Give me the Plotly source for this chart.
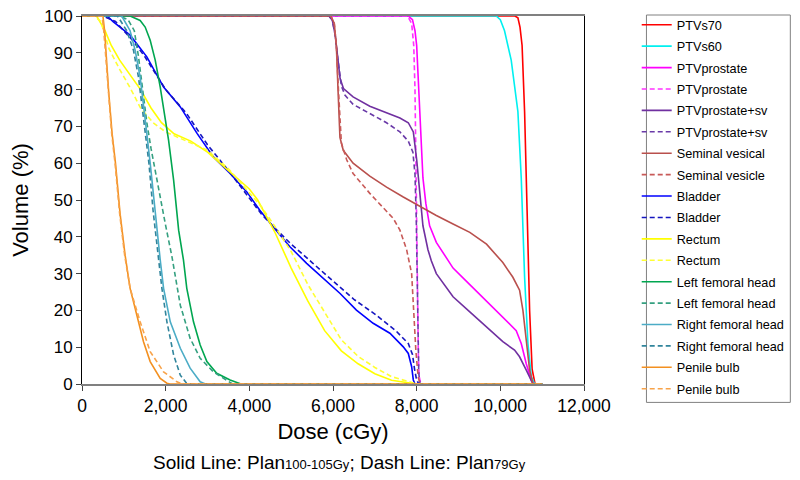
import plotly.graph_objects as go

# Dose-volume data (dose in cGy, volume in %)
ptvs70_dose = [0, 10350, 10420, 10470, 10520, 10580, 10640, 10700, 10760, 10800, 10830, 11000]
ptvs70_vol = [100, 100, 99.5, 97, 92, 74, 47, 20, 4, 1, 0, 0]

ptvs60_dose = [0, 9900, 10000, 10100, 10260, 10420, 10500, 10580, 10660, 10740, 10800, 10830, 11000]
ptvs60_vol = [100, 100, 99, 96, 88, 74, 56, 29, 11, 2, 0.5, 0, 0]

ptvp_dose = [0, 7800, 7900, 7960, 8000, 8075, 8150, 8220, 8310, 8470, 8700, 8870, 9270, 9670,
             10060, 10380, 10500, 10620, 10740, 10800, 11000]
ptvp_vol = [100, 100, 99, 96, 92, 74, 56, 49, 43, 38.5, 34.5, 31.5, 27, 22.5, 18, 14.5, 11, 5.5, 1, 0, 0]

ptvp79_dose = [0, 7780, 7880, 7930, 7960, 7980, 8000, 8020, 8040, 8060, 8100, 11000]
ptvp79_vol = [100, 100, 98, 92, 80, 60, 40, 20, 8, 2, 0, 0]

ptvsv_dose = [0, 5900, 5980, 6050, 6120, 6170, 6250, 6480, 6880, 7280, 7600, 7800, 7920, 8000, 8075,
              8150, 8270, 8350, 8470, 8870, 9270, 9670, 10060, 10340, 10460, 10620, 10780, 11000]
ptvsv_vol = [100, 100, 99, 95, 88, 83, 80.3, 78, 75.5, 73.8, 72.3, 71, 68.5, 61, 52,
             43, 36.5, 33.5, 30, 23.7, 19.6, 15.6, 11.5, 9.2, 7.4, 3.8, 0, 0]

ptvsv79_dose = [0, 5900, 5980, 6050, 6120, 6200, 6285, 6480, 6880, 7280, 7600, 7800, 7910, 7960,
                7990, 8010, 8030, 8050, 8080, 11000]
ptvsv79_vol = [100, 100, 99, 95, 88, 81, 78.5, 76, 73.5, 71, 68.5, 66, 63, 57, 45, 25, 10, 3, 0, 0]

sv_dose = [0, 5950, 6030, 6080, 6120, 6166, 6245, 6480, 6880, 7280, 7680, 8075, 8470, 8870, 9270,
           9670, 10060, 10300, 10460, 10540, 10620, 10700, 10780, 11000]
sv_vol = [100, 100, 98, 92, 80, 67, 63.5, 60, 56.5, 53.5, 50.8, 48.2, 45.8, 43.5, 41.2,
          38, 33, 29, 25.5, 20, 11, 3.8, 0, 0]

sv79_dose = [0, 5950, 6030, 6080, 6130, 6200, 6325, 6480, 6880, 7280, 7440, 7600, 7760, 7880,
             7930, 7980, 8035, 8080, 11000]
sv79_vol = [100, 100, 98, 92, 80, 65.5, 61, 57.2, 51.8, 47, 45, 41.8, 36.5, 30, 18.3, 9.2, 2, 0, 0]

bladder_dose = [0, 600, 750, 1150, 1550, 1950, 2350, 2750, 3140, 3540, 3940, 4250, 4570, 4970,
                5370, 5770, 6170, 6560, 6960, 7360, 7680, 7800, 7880, 7920, 7960, 11000]
bladder_vol = [100, 100, 98.4, 94.8, 88.9, 80.7, 75.3, 68.1, 61.7, 57.2, 52.2, 47.2, 42.7, 37.3,
               32.8, 28.7, 24.6, 20.1, 16.5, 13.8, 10.1, 8.3, 4.7, 1.1, 0, 0]

bladder79_dose = [0, 500, 800, 1000, 1200, 1500, 2000, 2500, 3000, 3500, 3800, 4000, 4300, 4600,
                  5000, 5500, 6000, 6500, 7000, 7500, 7800, 7900, 7950, 8000, 8050, 11000]
bladder79_vol = [100, 100, 98.5, 96, 93.5, 89, 80, 73.5, 65, 58, 53.5, 50.3, 46, 42.5,
                 38, 33, 28, 23, 19, 14.5, 11, 8, 4, 1, 0, 0]

rectum_dose = [0, 350, 550, 700, 900, 1150, 1400, 1650, 1900, 2200, 2600, 3000, 3500, 4000, 4200,
               4600, 5000, 5400, 5800, 6200, 6600, 7000, 7400, 7900, 8000, 11000]
rectum_vol = [100, 100, 96, 92, 88, 84, 80, 75, 71, 68, 66, 63, 58, 53, 50,
              41.5, 31.5, 22.5, 14.5, 9, 5.5, 2.8, 1, 0.2, 0, 0]

rectum79_dose = [0, 300, 450, 650, 900, 1150, 1400, 1700, 2000, 2500, 3000, 3500, 4000, 4300,
                 4600, 5000, 5400, 5800, 6200, 6600, 7000, 7400, 7800, 8000, 11000]
rectum79_vol = [100, 100, 98.5, 91, 85.5, 80.5, 75, 71, 68.5, 66, 63.5, 58.5, 52, 48,
                43, 36, 27, 19.5, 12, 7.5, 4.5, 2, 0.6, 0, 0]

lfh_dose = [0, 1150, 1390, 1510, 1630, 1750, 1870, 1990, 2070, 2190, 2310, 2425, 2505, 2665,
            2825, 2985, 3220, 3540, 3800, 11000]
lfh_vol = [100, 100, 98.8, 97, 93.4, 88, 80.7, 72.6, 66.2, 55.4, 41.8, 33.7, 26, 16.9,
           10.6, 6.1, 2.9, 1.1, 0, 0]

lfh79_dose = [0, 900, 1100, 1250, 1350, 1450, 1550, 1650, 1790, 1990, 2150, 2350, 2585, 2825,
              3140, 3460, 3600, 11000]
lfh79_vol = [100, 100, 99, 96, 89, 80, 71, 64, 55.4, 43.6, 34.6, 21.4, 12.4, 7, 3.3, 1.1, 0, 0]

rfh_dose = [0, 950, 1150, 1270, 1390, 1470, 1550, 1630, 1750, 1870, 1950, 2110, 2350, 2585,
            2825, 2950, 11000]
rfh_vol = [100, 100, 96, 90.7, 83.4, 76.2, 68, 60, 46.3, 33.7, 26, 16.9, 9.7, 4.3, 0.6, 0, 0]

rfh79_dose = [0, 850, 1070, 1230, 1350, 1430, 1510, 1600, 1700, 1830, 1910, 2030, 2190, 2350,
              2500, 2600, 11000]
rfh79_vol = [100, 100, 96, 90.7, 83.4, 76.2, 68, 60, 47, 34, 26, 16.9, 7.9, 2.4, 0.2, 0, 0]

bulb_dose = [0, 500, 540, 580, 640, 720, 800, 910, 1030, 1150, 1310, 1470, 1630, 1870, 2030,
             2100, 11000]
bulb_vol = [100, 100, 96, 88, 79, 68, 60, 46.3, 35, 26, 18.7, 11.5, 6.1, 1.5, 0.2, 0, 0]

bulb79_dose = [0, 480, 520, 570, 630, 710, 790, 900, 1020, 1150, 1390, 1630, 1950, 2270, 2400, 11000]
bulb79_vol = [100, 100, 96, 88, 79, 68, 60, 46.3, 35, 26, 16.9, 8.8, 3.3, 0.6, 0, 0]

series = [
    ("PTVs70", ptvs70_dose, ptvs70_vol, "#ff0000", "solid"),
    ("PTVs60", ptvs60_dose, ptvs60_vol, "#00f0f0", "solid"),
    ("PTVprostate", ptvp_dose, ptvp_vol, "#ff00ff", "solid"),
    ("PTVprostate", ptvp79_dose, ptvp79_vol, "#ff33ff", "5px,3px"),
    ("PTVprostate+sv", ptvsv_dose, ptvsv_vol, "#7030a0", "solid"),
    ("PTVprostate+sv", ptvsv79_dose, ptvsv79_vol, "#6a3aa8", "5px,3px"),
    ("Seminal vesical", sv_dose, sv_vol, "#b9504d", "solid"),
    ("Seminal vesicle", sv79_dose, sv79_vol, "#c85a58", "5px,3px"),
    ("Bladder", bladder_dose, bladder_vol, "#0000ff", "solid"),
    ("Bladder", bladder79_dose, bladder79_vol, "#1515c0", "5px,3px"),
    ("Rectum", rectum_dose, rectum_vol, "#ffff00", "solid"),
    ("Rectum", rectum79_dose, rectum79_vol, "#ffff33", "5px,3px"),
    ("Left femoral head", lfh_dose, lfh_vol, "#00a650", "solid"),
    ("Left femoral head", lfh79_dose, lfh79_vol, "#35a080", "5px,3px"),
    ("Right femoral head", rfh_dose, rfh_vol, "#4bacc6", "solid"),
    ("Right femoral head", rfh79_dose, rfh79_vol, "#31859c", "5px,3px"),
    ("Penile bulb", bulb_dose, bulb_vol, "#f39020", "solid"),
    ("Penile bulb", bulb79_dose, bulb79_vol, "#f8a34a", "5px,3px"),
]

fig = go.Figure()
for i, (name, x, y, color, dash) in enumerate(series):
    fig.add_trace(go.Scatter(x=x, y=y, mode="lines", name=name, legendgroup=str(i),
                             line=dict(color=color, width=1.6, dash=dash)))

# page body adds an 8px offset, margins compensate for it
fig.update_layout(
    width=800, height=480,
    margin=dict(l=74, r=224, t=8, b=104, autoexpand=False),
    plot_bgcolor="white", paper_bgcolor="white",
    font=dict(family="Arial, Liberation Sans, sans-serif", color="black"),
    legend=dict(x=1.105, y=1.0163, xanchor="left", yanchor="top",
                bgcolor="rgba(0,0,0,0)", borderwidth=0, font=dict(size=12.7),
                tracegroupgap=1.9, maxheight=470),
)
# legend frame
fig.add_shape(type="rect", xref="paper", yref="paper", x0=1.1244, x1=1.411, y0=-0.05, y1=1.0027,
              line=dict(color="#808080", width=1), fillcolor="rgba(0,0,0,0)")
fig.update_xaxes(range=[0, 12000], dtick=2000, tickformat=",d", ticks="outside", ticklen=5,
                 showgrid=False, zeroline=False, showline=True, linecolor="#808080",
                 linewidth=1.5, mirror=True, tickfont=dict(size=17.5), automargin=False,
                 ticklabeloverflow="allow",
                 title=dict(text="Dose (cGy)", font=dict(size=22), standoff=9))
fig.update_yaxes(range=[0, 100], dtick=10, ticks="outside", ticklen=5,
                 showgrid=False, zeroline=False, showline=True, linecolor="black",
                 linewidth=1, mirror=True, tickfont=dict(size=17), automargin=False,
                 ticklabeloverflow="allow",
                 title=dict(text="Volume (%)", font=dict(size=22), standoff=14))
fig.add_annotation(x=0.513, y=-0.212, xref="paper", yref="paper", showarrow=False,
                   yanchor="middle",
                   text=("Solid Line: Plan<span style='font-size:13px'>100-105Gy</span>; "
                         "Dash Line: Plan<span style='font-size:13px'>79Gy</span>"),
                   font=dict(size=19))

fig.write_html("out.html")
